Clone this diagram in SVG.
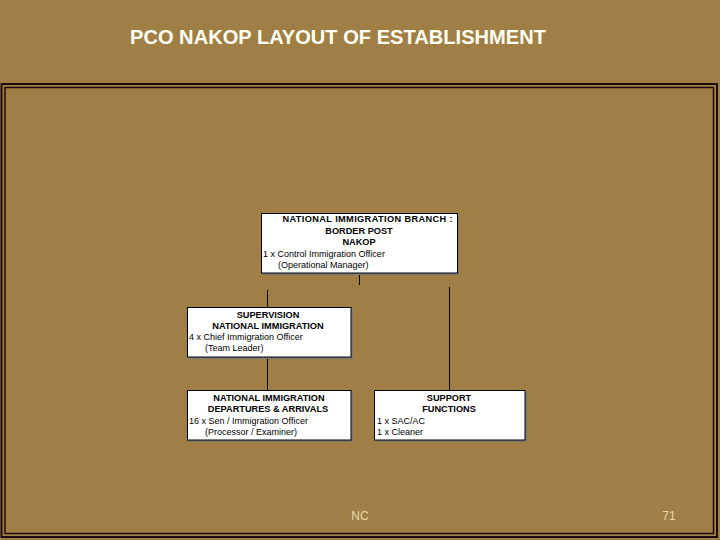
<svg xmlns="http://www.w3.org/2000/svg" width="720" height="540" viewBox="0 0 720 540">
<style>
.box{fill:#ffffff;stroke:#000000;stroke-width:1}
.sh{fill:#7a7a7a}
.h{font-family:"Liberation Sans",Arial,sans-serif;font-size:9.2px;font-weight:bold;fill:#000;text-anchor:middle}
.t{font-family:"Liberation Sans",Arial,sans-serif;font-size:9px;fill:#000}
.frame{fill:none;stroke:#1e0c0c}
.conn line{stroke:#000;stroke-width:1}
</style>
<rect x="0" y="0" width="720" height="540" fill="#9f7f45"/>
<text x="130" y="44" font-family="'Liberation Sans',Arial,sans-serif" font-size="19.5" font-weight="bold" fill="#fffff4" textLength="416" lengthAdjust="spacingAndGlyphs">PCO NAKOP LAYOUT OF ESTABLISHMENT</text>
<rect class="frame" x="1.5" y="84" width="715.5" height="453" stroke-width="2"/>
<rect class="frame" x="5" y="87.5" width="708.5" height="446" stroke-width="1.5"/>
<g id="connectors" class="conn">
<line x1="359.5" y1="273" x2="359.5" y2="285"/>
<line x1="267.5" y1="290" x2="267.5" y2="307"/>
<line x1="267.5" y1="357" x2="267.5" y2="390"/>
<line x1="449.5" y1="287" x2="449.5" y2="390"/>
</g>
<g id="branch">
<rect class="sh" x="263" y="215" width="196" height="60"/>
<rect class="box" x="261.5" y="213.5" width="196" height="59.5"/>
<text class="h" x="367.5" y="222" textLength="170">NATIONAL IMMIGRATION BRANCH :</text>
<text class="h" x="359" y="234">BORDER POST</text>
<text class="h" x="359" y="245">NAKOP</text>
<text class="t" x="263" y="257">1 x Control Immigration Officer</text>
<text class="t" x="278" y="268">(Operational Manager)</text>
</g>
<g id="supervision">
<rect class="sh" x="189" y="309" width="164" height="50"/>
<rect class="box" x="187.5" y="307.5" width="163.5" height="49.5"/>
<text class="h" x="268" y="318">SUPERVISION</text>
<text class="h" x="268" y="329">NATIONAL IMMIGRATION</text>
<text class="t" x="189" y="340">4 x Chief Immigration Officer</text>
<text class="t" x="205" y="351">(Team Leader)</text>
</g>
<g id="departures">
<rect class="sh" x="189" y="392" width="164" height="50"/>
<rect class="box" x="187.5" y="390.5" width="163.5" height="49.5"/>
<text class="h" x="269" y="401">NATIONAL IMMIGRATION</text>
<text class="h" x="268" y="412">DEPARTURES &amp; ARRIVALS</text>
<text class="t" x="189" y="424">16 x Sen / Immigration Officer</text>
<text class="t" x="205" y="435">(Processor / Examiner)</text>
</g>
<g id="support">
<rect class="sh" x="376" y="392" width="151" height="50"/>
<rect class="box" x="374.5" y="390.5" width="150.5" height="49.5"/>
<text class="h" x="449" y="401">SUPPORT</text>
<text class="h" x="449" y="412">FUNCTIONS</text>
<text class="t" x="377" y="424">1 x SAC/AC</text>
<text class="t" x="377" y="435">1 x Cleaner</text>
</g>
<text x="360" y="520" font-family="'Liberation Sans',Arial,sans-serif" font-size="12" fill="#e6d7b0" text-anchor="middle">NC</text>
<text x="669" y="520" font-family="'Liberation Sans',Arial,sans-serif" font-size="12" fill="#e6d7b0" text-anchor="middle">71</text>
</svg>
